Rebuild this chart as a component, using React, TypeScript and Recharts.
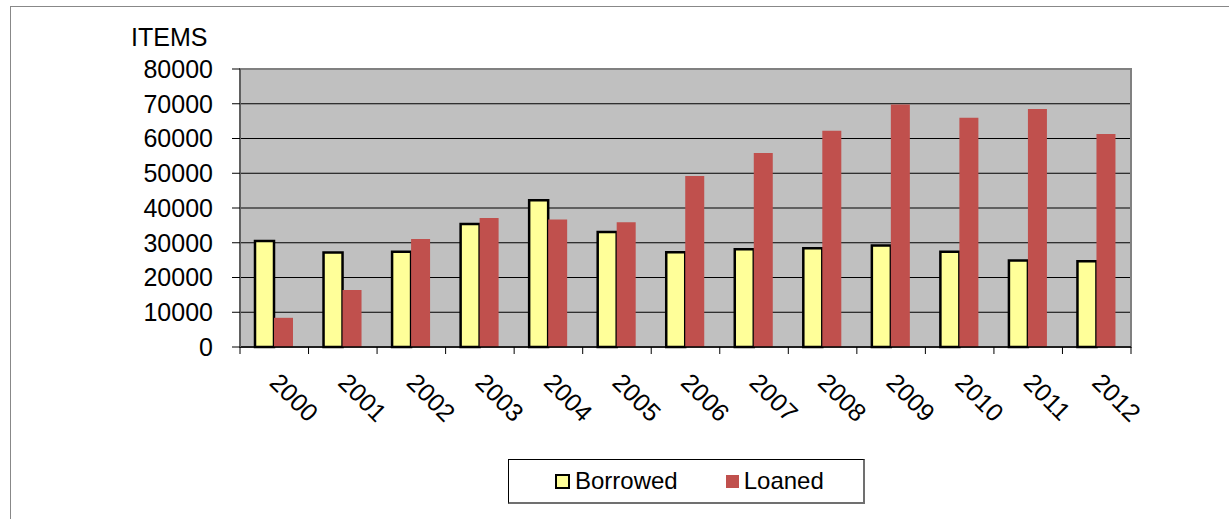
import { BarChart, Bar, XAxis, YAxis, CartesianGrid, ReferenceArea } from 'recharts';

const years = ['2000', '2001', '2002', '2003', '2004', '2005', '2006', '2007', '2008', '2009', '2010', '2011', '2012'];
const borrowed = [30500, 27200, 27400, 35400, 42200, 33100, 27300, 28100, 28400, 29200, 27400, 24900, 24700];
const loaned = [8400, 16400, 31100, 37100, 36700, 35900, 49200, 55800, 62200, 69800, 66000, 68500, 61300];
const yTicks = [0, 10000, 20000, 30000, 40000, 50000, 60000, 70000, 80000];

const SERIES = [
  { key: 'borrowed', label: 'Borrowed', fill: '#FFFF99', stroke: '#000000' },
  { key: 'loaned', label: 'Loaned', fill: '#C0504D', stroke: 'none' },
];

const FONT = '"Liberation Sans", Arial, sans-serif';

const data = years.map((y, i) => ({ year: y, borrowed: borrowed[i], loaned: loaned[i] }));

// category boundary ticks + rotated year labels
function YearTick(props: any) {
  const { x, y, payload, index } = props;
  const half = payload?.offset ?? 34.27;
  const tx = x - 6;
  const ty = y + 37;
  return (
    <g>
      <line x1={x - half} y1={y} x2={x - half} y2={y + 7} stroke="#000" />
      {index === years.length - 1 && (
        <line x1={x + half} y1={y} x2={x + half} y2={y + 7} stroke="#000" />
      )}
      <text
        x={tx}
        y={ty}
        transform={`rotate(45, ${tx}, ${ty})`}
        fontSize={25}
        fontFamily={FONT}
        fill="#000"
        textAnchor="start"
      >
        {payload.value}
      </text>
    </g>
  );
}

export default function App() {
  return (
    <div style={{ position: 'fixed', left: 0, top: 0, width: 1229, height: 519, overflow: 'hidden', background: '#fff', fontFamily: FONT }}>
      <div style={{ position: 'absolute', left: 10, top: 6, width: 1400, height: 700, border: '1px solid #888' }} />
      <div style={{ position: 'absolute', left: 131, top: 23, fontSize: 25, lineHeight: '28px', color: '#000' }}>ITEMS</div>
      <div style={{ position: 'absolute', left: 0, top: 0 }}>
        <BarChart
          width={1229}
          height={519}
          data={data}
          margin={{ top: 69, right: 98, bottom: 112, left: 140 }}
          barGap={0}
          barSize={19}
        >
          <CartesianGrid vertical={false} fill="#C0C0C0" stroke="#000" strokeOpacity={1} />
          <ReferenceArea y1={0} y2={80000} fill="none" stroke="#808080" strokeWidth={2} ifOverflow="visible" />
          <XAxis
            dataKey="year"
            height={60}
            tickSize={0}
            tickMargin={0}
            tickLine={false}
            axisLine={{ stroke: '#000', strokeWidth: 1.5 }}
            tick={<YearTick />}
            interval={0}
          />
          <YAxis
            width={100}
            domain={[0, 80000]}
            ticks={yTicks}
            interval={0}
            tickSize={8}
            tickMargin={19}
            axisLine={{ stroke: '#606060', strokeWidth: 2 }}
            tickLine={{ stroke: '#000' }}
            tick={{ fontSize: 25, fill: '#000', fontFamily: FONT }}
          />
          {SERIES.map((s) => (
            <Bar
              key={s.key}
              dataKey={s.key}
              name={s.label}
              fill={s.fill}
              stroke={s.stroke}
              strokeWidth={s.stroke === 'none' ? 0 : 2.5}
              isAnimationActive={false}
            />
          ))}
        </BarChart>
      </div>
      <div
        style={{
          position: 'absolute',
          left: 508,
          top: 459,
          width: 354,
          height: 42,
          borderTop: '1px solid #000',
          borderLeft: '1px solid #000',
          borderRight: '2px solid #707070',
          borderBottom: '2px solid #707070',
          display: 'flex',
          alignItems: 'center',
          boxSizing: 'content-box',
        }}
      >
        {SERIES.map((s, i) => (
          <div key={s.key} style={{ display: 'flex', alignItems: 'center', marginLeft: i === 0 ? 46 : 48 }}>
            <div
              style={{
                width: s.stroke === 'none' ? 13 : 11,
                height: s.stroke === 'none' ? 13 : 11,
                background: s.fill,
                border: s.stroke === 'none' ? 'none' : '2px solid #000',
                marginRight: 5,
              }}
            />
            <span style={{ fontSize: 24, lineHeight: '24px' }}>{s.label}</span>
          </div>
        ))}
      </div>
    </div>
  );
}
